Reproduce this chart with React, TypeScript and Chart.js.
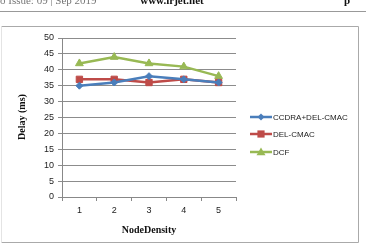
import React, { useEffect, useRef } from "react";
import { Chart, registerables } from "chart.js";

Chart.register(...registerables);

const nodeDensity = ["1", "2", "3", "4", "5"];
const ccdraDelay = [35, 36, 38, 37, 36];
const delCmacDelay = [37, 37, 36, 37, 36];
const dcfDelay = [42, 44, 42, 41, 38];

const seriesNames = ["CCDRA+DEL-CMAC", "DEL-CMAC", "DCF"];
const seriesColors = ["#4a7ebb", "#be4b48", "#98b954"];
const markerStyles = ["rectRot", "rect", "triangle"] as const;
const markerSizes = [3.5, 4.5, 4.5];

const yTitle = "Delay (ms)";
const xTitle = "NodeDensity";
const headerLeft = "o Issue: 09 | Sep 2019";
const headerCenter = "www.irjet.net";
const headerRight = "p";

function drawMarker(ctx: CanvasRenderingContext2D, style: string, r: number, x: number, y: number) {
  ctx.beginPath();
  if (style === "rectRot") {
    ctx.moveTo(x, y - r);
    ctx.lineTo(x + r, y);
    ctx.lineTo(x, y + r);
    ctx.lineTo(x - r, y);
  } else if (style === "rect") {
    ctx.rect(x - r * 0.8, y - r * 0.8, r * 1.6, r * 1.6);
  } else {
    ctx.moveTo(x, y - r);
    ctx.lineTo(x + r, y + r * 0.7);
    ctx.lineTo(x - r, y + r * 0.7);
  }
  ctx.closePath();
  ctx.fill();
}

const decorPlugin = {
  id: "decor",
  beforeDraw(chart: any) {
    const ctx = chart.ctx;
    ctx.save();
    ctx.fillStyle = "#ffffff";
    ctx.fillRect(0, 0, chart.width, chart.height);
    // page header
    ctx.textBaseline = "alphabetic";
    ctx.font = "11px 'Liberation Serif'";
    ctx.fillStyle = "#777";
    ctx.textAlign = "left";
    ctx.fillText(headerLeft, 0, 4);
    ctx.font = "bold 11px 'Liberation Serif'";
    ctx.fillStyle = "#111";
    ctx.textAlign = "center";
    ctx.fillText(headerCenter, 172, 4);
    ctx.textAlign = "left";
    ctx.fillText(headerRight, 344, 4);
    ctx.strokeStyle = "#999";
    ctx.lineWidth = 1;
    ctx.beginPath();
    ctx.moveTo(0, 11.5);
    ctx.lineTo(366, 11.5);
    ctx.stroke();
    // chart frame
    ctx.strokeStyle = "#aaa";
    ctx.beginPath();
    ctx.moveTo(1.5, 26.5);
    ctx.lineTo(358.5, 26.5);
    ctx.lineTo(358.5, 242.5);
    ctx.lineTo(1.5, 242.5);
    ctx.stroke();
    ctx.strokeStyle = "#e4e4e4";
    ctx.beginPath();
    ctx.moveTo(1.5, 26.5);
    ctx.lineTo(1.5, 242.5);
    ctx.stroke();
    ctx.restore();
  },
  afterDraw(chart: any) {
    const ctx = chart.ctx;
    const area = chart.chartArea;
    ctx.save();
    // axis titles
    ctx.font = "bold 10px 'Liberation Serif'";
    ctx.fillStyle = "#111";
    ctx.textAlign = "center";
    ctx.textBaseline = "middle";
    ctx.fillText(xTitle, (area.left + area.right) / 2, 230);
    ctx.translate(22, 117);
    ctx.rotate(-Math.PI / 2);
    ctx.fillText(yTitle, 0, 0);
    ctx.restore();

    // legend
    ctx.save();
    ctx.font = "8px 'Liberation Sans'";
    ctx.textAlign = "left";
    ctx.textBaseline = "middle";
    const rows = [117, 134, 152];
    chart.data.datasets.forEach((ds: any, i: number) => {
      const y = rows[i];
      ctx.strokeStyle = ds.borderColor;
      ctx.lineWidth = 2.5;
      ctx.beginPath();
      ctx.moveTo(250, y);
      ctx.lineTo(272, y);
      ctx.stroke();
      ctx.fillStyle = ds.borderColor;
      drawMarker(ctx, ds.pointStyle, ds.pointRadius, 261, y);
      ctx.fillStyle = "#222";
      ctx.fillText(ds.label, 273, y + 0.5);
    });
    ctx.restore();
  },
};

export default function App() {
  const ref = useRef<HTMLCanvasElement>(null);

  useEffect(() => {
    if (!ref.current) return;
    const values = [ccdraDelay, delCmacDelay, dcfDelay];
    const chart = new Chart(ref.current, {
      type: "line",
      data: {
        labels: nodeDensity,
        datasets: values.map((v, i) => ({
          label: seriesNames[i],
          data: v,
          borderColor: seriesColors[i],
          backgroundColor: seriesColors[i],
          borderWidth: 2.5,
          pointStyle: markerStyles[i],
          pointRadius: markerSizes[i],
          pointBorderWidth: 1,
          tension: 0,
        })),
      },
      options: {
        animation: false,
        responsive: false,
        maintainAspectRatio: false,
        devicePixelRatio: 1,
        layout: { padding: { left: 0, right: 130, top: 38, bottom: 0 } },
        plugins: { legend: { display: false }, tooltip: { enabled: false } },
        scales: {
          x: {
            offset: true,
            afterFit: (s: any) => {
              s.height = 54;
            },
            grid: {
              display: true,
              offset: true,
              drawOnChartArea: false,
              drawTicks: true,
              tickLength: 4,
              color: "#888",
            },
            border: { color: "#888", width: 1 },
            ticks: {
              font: { family: "'Liberation Sans'", size: 9 },
              color: "#222",
              padding: 4,
            },
          },
          y: {
            min: 0,
            max: 50,
            afterFit: (s: any) => {
              s.width = 62;
            },
            ticks: {
              stepSize: 5,
              font: { family: "'Liberation Sans'", size: 9 },
              color: "#222",
              padding: 4,
            },
            grid: {
              color: "#8c8c8c",
              tickLength: 4,
              drawTicks: true,
            },
            border: { color: "#888", width: 1 },
          },
        },
      },
      plugins: [decorPlugin],
    } as any);
    return () => chart.destroy();
  }, []);

  return (
    <div style={{ position: "absolute", left: 0, top: 0, width: 366, height: 251 }}>
      <canvas ref={ref} width={366} height={251} style={{ display: "block", width: 366, height: 251 }} />
    </div>
  );
}
